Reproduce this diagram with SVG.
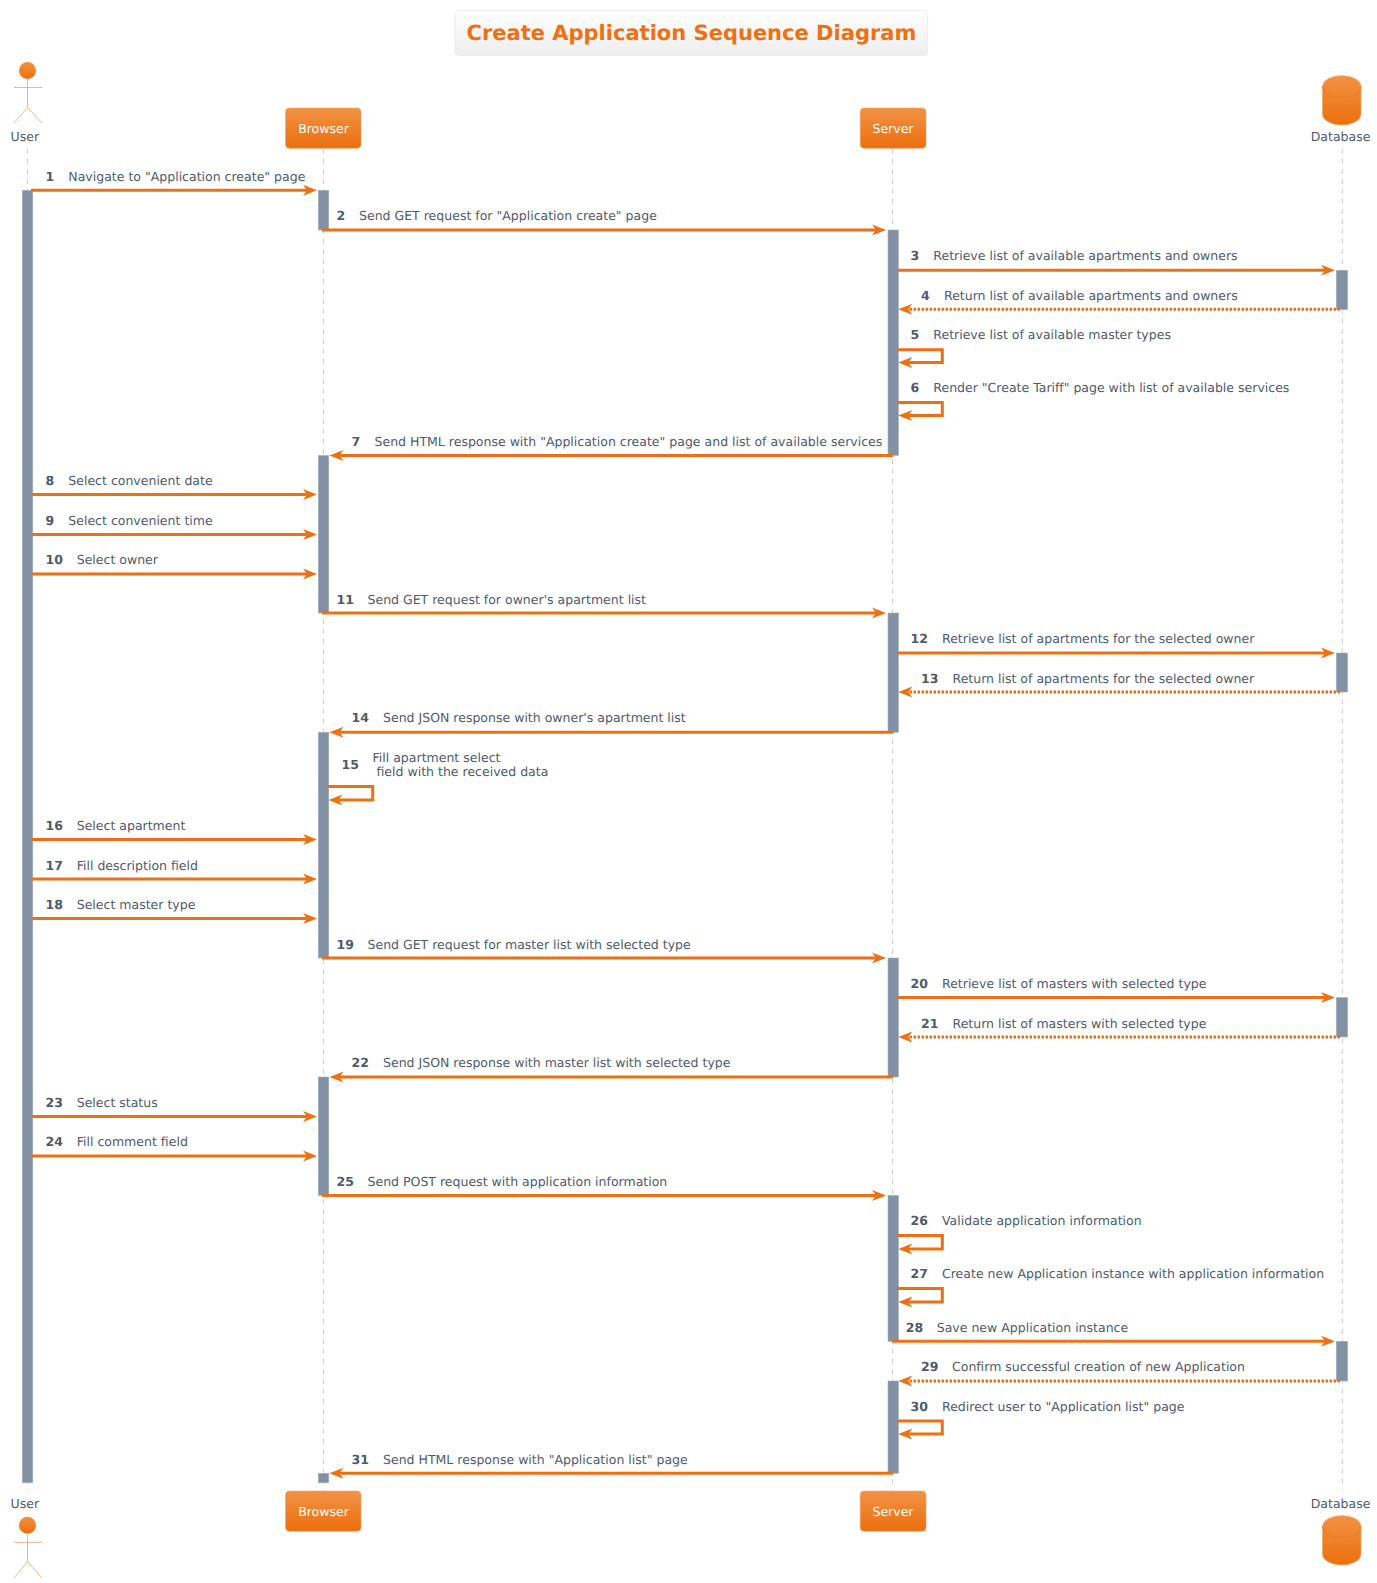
<svg xmlns="http://www.w3.org/2000/svg" width="1377" height="1583" viewBox="0 0 1377 1583">
<style>
text{font-family:"DejaVu Sans",sans-serif;font-size:12.52px;fill:#4f5b6c;white-space:pre;text-rendering:geometricPrecision}
.n{font-weight:bold}
.w{fill:#fff;text-anchor:middle}
.t{font-size:21px;font-weight:bold;fill:#f07010}
.life{stroke:#cfcfcf;stroke-width:1;stroke-dasharray:5 5;fill:none}
.act{fill:#8291a4;stroke:#a5b0bd;stroke-width:.6}
.m{stroke:#ee7010;stroke-width:3;fill:none}
.d{stroke-dasharray:2.5 1.5}
.h{fill:#ee7010}
.box{fill:url(#g);stroke:#f4a569;stroke-width:.6}
.ac{stroke:#f5ab72;stroke-width:.9;fill:none}
.db{fill:url(#g);stroke:#f4a569;stroke-width:.8}
.dl{fill:none;stroke:#ee7a20;stroke-width:1}
</style>
<defs>
<linearGradient id="g" x1="0" y1="0" x2="0" y2="1"><stop offset="0" stop-color="#f29243"/><stop offset="1" stop-color="#ec6f0f"/></linearGradient>
<linearGradient id="tg" x1="0" y1="0" x2="0" y2="1"><stop offset="0" stop-color="#fefefe"/><stop offset="1" stop-color="#eeeeee"/></linearGradient>
<polygon id="r" class="h" points="0,0 -14,-5.5 -10,0 -14,5.5"/>
<polygon id="l" class="h" points="0,0 14,-5.5 10,0 14,5.500"/>
</defs>
<g id="title"><rect x="455" y="10.500" width="472.700" height="45" rx="4" fill="url(#tg)" stroke="#ececec"/><text class="t" x="466.500" y="40">Create Application Sequence Diagram</text></g>
<g id="lifelines">
<path class="life" d="M27.500 149V1490"/><path class="life" d="M323.500 149V1490"/><path class="life" d="M892.500 149V1490"/><path class="life" d="M1342.300 149V1490"/>
</g>
<g id="user"><circle cx="27.500" cy="70.500" r="8.500" fill="url(#g)"/><path class="ac" d="M14 87.500H42M27.500 79V107.500L14 123M27.500 107.500L42 123"/><text x="10.500" y="141">User</text>
<text x="10.500" y="1508">User</text><circle cx="27.500" cy="1525.300" r="8.500" fill="url(#g)"/><path class="ac" d="M14 1542.300H42M27.500 1534V1561.500L14 1578M27.500 1561.500L42 1578"/></g>
<g id="browser"><rect class="box" x="285.500" y="108" width="75.500" height="40.300" rx="4"/><text class="w" x="323.500" y="133">Browser</text>
<rect class="box" x="285.500" y="1491" width="75.500" height="40.300" rx="4"/><text class="w" x="323.500" y="1516">Browser</text></g>
<g id="server"><rect class="box" x="860.200" y="108" width="65.800" height="40.300" rx="4"/><text class="w" x="893" y="133">Server</text>
<rect class="box" x="860.200" y="1491" width="65.800" height="40.300" rx="4"/><text class="w" x="893" y="1516">Server</text></g>
<g id="database"><path class="db" d="M1322.500 86.500A19.200 10.800 0 0 1 1361 86.500V114.200A19.200 10.800 0 0 1 1322.500 114.200Z"/><path class="dl" d="M1322.500 86.500A19.200 10.800 0 0 0 1361 86.500"/><text x="1310.700" y="141">Database</text>
<text x="1310.700" y="1508">Database</text><path class="db" d="M1322.500 1526.500A19.200 10.800 0 0 1 1361 1526.500V1554.200A19.200 10.800 0 0 1 1322.500 1554.200Z"/><path class="dl" d="M1322.500 1526.500A19.200 10.800 0 0 0 1361 1526.500"/></g>
<g id="activations">
<rect class="act" x="22.300" y="190.300" width="10.500" height="1292.500"/>
<rect class="act" x="318.300" y="190.300" width="10.500" height="39.700"/><rect class="act" x="318.300" y="455.500" width="10.500" height="157.500"/><rect class="act" x="318.300" y="732.300" width="10.500" height="225.700"/><rect class="act" x="318.300" y="1077" width="10.500" height="118.500"/><rect class="act" x="318.300" y="1473.300" width="10.500" height="9.500"/>
<rect class="act" x="888" y="230" width="10.500" height="225.500"/><rect class="act" x="888" y="613" width="10.500" height="119.300"/><rect class="act" x="888" y="958" width="10.500" height="119"/><rect class="act" x="888" y="1195.500" width="10.500" height="145.800"/><rect class="act" x="888" y="1381" width="10.500" height="92.300"/>
<rect class="act" x="1336.300" y="270.300" width="11.300" height="39.300"/><rect class="act" x="1336.300" y="653" width="11.300" height="39"/><rect class="act" x="1336.300" y="997.500" width="11.300" height="39.500"/><rect class="act" x="1336.300" y="1341.300" width="11.300" height="39.700"/>
</g>
<g id="connectors">
<path class="m" d="M31 190.300H310"/><use href="#r" x="317" y="190.300"/>
<path class="m" d="M322 230H879"/><use href="#r" x="886" y="230"/>
<path class="m" d="M897 270.300H1328"/><use href="#r" x="1335" y="270.300"/>
<path class="m d" d="M1340 309.300H905"/><use href="#l" x="898.300" y="309.300"/>
<path class="m" d="M897 349.700H942.300V362.500H905"/><use href="#l" x="898.300" y="362.500"/>
<path class="m" d="M897 402.500H942.300V415.500H905"/><use href="#l" x="898.300" y="415.500"/>
<path class="m" d="M893 455.500H336"/><use href="#l" x="329.500" y="455.500"/>
<path class="m" d="M31 494.500H310"/><use href="#r" x="317" y="494.500"/>
<path class="m" d="M31 534.500H310"/><use href="#r" x="317" y="534.500"/>
<path class="m" d="M31 574H310"/><use href="#r" x="317" y="574"/>
<path class="m" d="M322 613H879"/><use href="#r" x="886" y="613"/>
<path class="m" d="M897 653H1328"/><use href="#r" x="1335" y="653"/>
<path class="m d" d="M1340 692H905"/><use href="#l" x="898.300" y="692"/>
<path class="m" d="M893 732.300H336"/><use href="#l" x="329.500" y="732.300"/>
<path class="m" d="M327.500 786.500H372.700V800H335"/><use href="#l" x="328.500" y="800"/>
<path class="m" d="M31 839.500H310"/><use href="#r" x="317" y="839.500"/>
<path class="m" d="M31 879H310"/><use href="#r" x="317" y="879"/>
<path class="m" d="M31 918.500H310"/><use href="#r" x="317" y="918.500"/>
<path class="m" d="M322 958H879"/><use href="#r" x="886" y="958"/>
<path class="m" d="M897 997.500H1328"/><use href="#r" x="1335" y="997.500"/>
<path class="m d" d="M1340 1037H905"/><use href="#l" x="898.300" y="1037"/>
<path class="m" d="M893 1077H336"/><use href="#l" x="329.500" y="1077"/>
<path class="m" d="M31 1116.500H310"/><use href="#r" x="317" y="1116.500"/>
<path class="m" d="M31 1156H310"/><use href="#r" x="317" y="1156"/>
<path class="m" d="M322 1195.500H879"/><use href="#r" x="886" y="1195.500"/>
<path class="m" d="M897 1235.500H942.300V1249H905"/><use href="#l" x="898.300" y="1249"/>
<path class="m" d="M897 1288.500H942.300V1302H905"/><use href="#l" x="898.300" y="1302"/>
<path class="m" d="M892 1341.300H1328"/><use href="#r" x="1335" y="1341.300"/>
<path class="m d" d="M1340 1381H905"/><use href="#l" x="898.300" y="1381"/>
<path class="m" d="M897 1421H942.300V1434H905"/><use href="#l" x="898.300" y="1434"/>
<path class="m" d="M893 1473.300H336"/><use href="#l" x="329.500" y="1473.300"/>
</g>
<g id="labels">
<text class="n" x="45.500" y="180.500">1</text><text x="68.300" y="180.500">Navigate to "Application create" page</text>
<text class="n" x="336.500" y="220">2</text><text x="359" y="220">Send GET request for "Application create" page</text>
<text class="n" x="910.500" y="260">3</text><text x="933.300" y="260">Retrieve list of available apartments and owners</text>
<text class="n" x="921" y="299.500">4</text><text x="944" y="299.500">Return list of available apartments and owners</text>
<text class="n" x="910.500" y="339">5</text><text x="933.300" y="339">Retrieve list of available master types</text>
<text class="n" x="910.500" y="392">6</text><text x="933.300" y="392">Render "Create Tariff" page with list of available services</text>
<text class="n" x="351.500" y="445.500">7</text><text x="374.500" y="445.500">Send HTML response with "Application create" page and list of available services</text>
<text class="n" x="45.500" y="484.500">8</text><text x="68.300" y="484.500">Select convenient date</text>
<text class="n" x="45.500" y="524.500">9</text><text x="68.300" y="524.500">Select convenient time</text>
<text class="n" x="45.500" y="564">10</text><text x="76.700" y="564">Select owner</text>
<text class="n" x="336.500" y="603.500">11</text><text x="367.500" y="603.500">Send GET request for owner's apartment list</text>
<text class="n" x="910.500" y="643">12</text><text x="942" y="643">Retrieve list of apartments for the selected owner</text>
<text class="n" x="921" y="682.500">13</text><text x="952.500" y="682.500">Return list of apartments for the selected owner</text>
<text class="n" x="351.500" y="722">14</text><text x="383" y="722">Send JSON response with owner's apartment list</text>
<text class="n" x="341.500" y="768.500">15</text><text x="372.500" y="761.500">Fill apartment select</text><text x="372.500" y="776"> field with the received data</text>
<text class="n" x="45.500" y="829.500">16</text><text x="76.700" y="829.500">Select apartment</text>
<text class="n" x="45.500" y="869.500">17</text><text x="76.700" y="869.500">Fill description field</text>
<text class="n" x="45.500" y="908.500">18</text><text x="76.700" y="908.500">Select master type</text>
<text class="n" x="336.500" y="948.500">19</text><text x="367.500" y="948.500">Send GET request for master list with selected type</text>
<text class="n" x="910.500" y="987.500">20</text><text x="942" y="987.500">Retrieve list of masters with selected type</text>
<text class="n" x="921" y="1027.500">21</text><text x="952.500" y="1027.500">Return list of masters with selected type</text>
<text class="n" x="351.500" y="1067">22</text><text x="383" y="1067">Send JSON response with master list with selected type</text>
<text class="n" x="45.500" y="1106.500">23</text><text x="76.700" y="1106.500">Select status</text>
<text class="n" x="45.500" y="1146">24</text><text x="76.700" y="1146">Fill comment field</text>
<text class="n" x="336.500" y="1185.500">25</text><text x="367.500" y="1185.500">Send POST request with application information</text>
<text class="n" x="910.500" y="1225">26</text><text x="942" y="1225">Validate application information</text>
<text class="n" x="910.500" y="1278">27</text><text x="942" y="1278">Create new Application instance with application information</text>
<text class="n" x="905.700" y="1331.500">28</text><text x="936.700" y="1331.500">Save new Application instance</text>
<text class="n" x="921" y="1371">29</text><text x="952" y="1371">Confirm successful creation of new Application</text>
<text class="n" x="910.500" y="1410.500">30</text><text x="942" y="1410.500">Redirect user to "Application list" page</text>
<text class="n" x="351.500" y="1463.500">31</text><text x="383" y="1463.500">Send HTML response with "Application list" page</text>
</g>
</svg>
